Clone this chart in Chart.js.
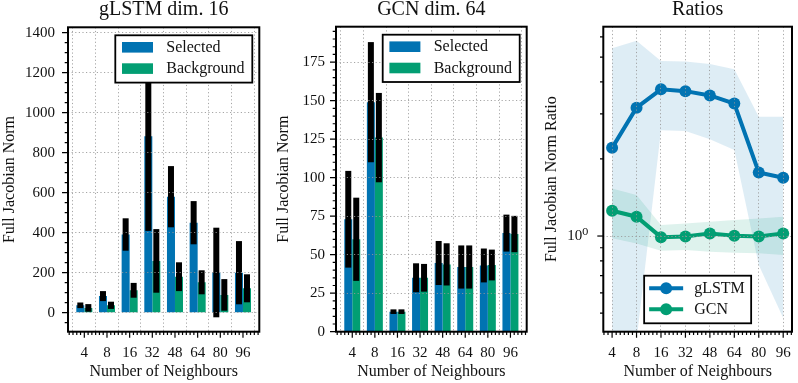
<!DOCTYPE html>
<html>
<head>
<meta charset="utf-8">
<script src="https://cdn.jsdelivr.net/npm/chart.js@4.4.0/dist/chart.umd.min.js"></script>
<style>
  html, body { margin: 0; padding: 0; background: #fff; }
  #wrap { position: relative; width: 798px; height: 383px; }
  canvas { position: absolute; top: 0; }
</style>
</head>
<body>
<div id="wrap">
  <canvas id="lstm-chart" width="266" height="383" style="left:0px"></canvas>
  <canvas id="gcn-chart" width="266" height="383" style="left:266px"></canvas>
  <canvas id="ratio-chart" width="266" height="383" style="left:532px"></canvas>
</div>
<script>
const neighbours = ['4', '8', '16', '32', '48', '64', '80', '96'];

// gLSTM dim. 16
const lstmSelected = [37, 83, 391, 882, 580, 450, 201, 200];
const lstmSelectedErr = [14, 25, 81, 473, 153, 108, 224, 158];
const lstmBackground = [24, 37, 112, 259, 180, 152, 89, 122];
const lstmBackgroundErr = [19, 18, 37, 159, 72, 60, 79, 70];
const lstmTicks = [0, 200, 400, 600, 800, 1000, 1200, 1400];

// GCN dim. 64
const gcnSelected = [73, 149, 13, 35, 44.6, 42, 43, 64];
const gcnSelectedErr = [31.4, 39, 1.5, 9.4, 14.3, 14, 11, 12];
const gcnBackground = [60, 126, 13, 35, 43.7, 42, 43.3, 63.4];
const gcnBackgroundErr = [27, 29, 1.5, 9, 13.7, 14, 10, 11.8];
const gcnTicks = [0, 25, 50, 75, 100, 125, 150, 175];

// Ratios
const ratioLstm = [2.21, 3.17, 3.74, 3.68, 3.54, 3.29, 1.77, 1.69];
const ratioLstmHigh = [5.41, 5.79, 4.83, 4.80, 4.70, 4.48, 2.92, 2.92];
const ratioLstmLow = [0.1, 0.39, 2.59, 2.57, 2.39, 2.17, 0.77, 0.478];
const ratioGcn = [1.256, 1.19, 0.99, 0.995, 1.024, 1.003, 0.995, 1.024];
const ratioGcnHigh = [1.535, 1.446, 1.104, 1.12, 1.137, 1.155, 1.172, 1.19];
const ratioGcnLow = [0.98, 0.934, 0.876, 0.882, 0.868, 0.861, 0.856, 0.843];
const ratioTicks = [1];
const ratioMinorTicks = [0.5, 0.6, 0.7, 0.8, 0.9, 2, 3, 4, 5, 6];

const serif = "'Liberation Serif', 'DejaVu Serif', serif";
const ink = '#111';
const blue = '#0173B2';
const green = '#029E73';
const gridColor = 'rgba(150,150,150,0.85)';
const tickFont = { family: serif, size: 15 };
const labelFont = { family: serif, size: 16 };
const titleFont = { family: serif, size: 20, weight: 'normal', lineHeight: 1 };

Chart.defaults.animation = false;
Chart.defaults.color = ink;
Chart.defaults.font.family = serif;

function points(values) {
    return values.map((v, i) => ({ x: i, y: v }));
}

function minorSteps(from, to, step, skip) {
    const out = [];
    for (let v = from; v <= to + 1e-9; v += step) {
        const r = Math.round(v * 1000) / 1000;
        if (!skip(r)) out.push(r);
    }
    return out;
}

function xAxis(min, max) {
    return {
        type: 'linear',
        min: min,
        max: max,
        offset: false,
        afterBuildTicks: s => { s.ticks = neighbours.map((n, i) => ({ value: i })); },
        afterFit: s => { s.height = 51.3; },
        ticks: { callback: v => neighbours[v], font: tickFont, color: ink, padding: 7, maxRotation: 0, autoSkip: false },
        grid: { color: gridColor, lineWidth: 1, tickLength: 5, tickColor: 'transparent', z: 1 },
        border: { display: false, dash: [1.2, 2.4] },
        title: { display: true, text: 'Number of Neighbours', font: labelFont, color: ink, padding: { top: 0, bottom: 1.7 } }
    };
}

function yAxis(type, min, max, tickValues, width, labelPad, titlePad, text, fmt, gridFn) {
    return {
        type: type,
        min: min,
        max: max,
        afterBuildTicks: s => { s.ticks = tickValues.map(v => ({ value: v })); },
        afterFit: s => { s.width = width; },
        ticks: { callback: fmt, font: tickFont, color: ink, padding: labelPad },
        grid: { color: gridFn || gridColor, lineWidth: 1, tickLength: 5, tickColor: 'transparent', z: 1 },
        border: { display: false, dash: [1.2, 2.4] },
        title: { display: true, text: text, font: labelFont, color: ink, padding: { top: titlePad, bottom: 0 } }
    };
}

// black error bars drawn over each bar, centred on the bar
function makeErrorBars(errors) {
    return {
        id: 'errorBars',
        afterDatasetsDraw(chart) {
            const ctx = chart.ctx;
            const y = chart.scales.y;
            const a = chart.chartArea;
            ctx.save();
            ctx.beginPath();
            ctx.rect(a.left, a.top, a.right - a.left, a.bottom - a.top);
            ctx.clip();
            ctx.fillStyle = '#000';
            errors.forEach((err, di) => {
                const vals = chart.data.datasets[di].data;
                chart.getDatasetMeta(di).data.forEach((bar, j) => {
                    const top = y.getPixelForValue(vals[j].y + err[j]);
                    const bottom = y.getPixelForValue(vals[j].y - err[j]);
                    ctx.fillRect(bar.x - 3, top, 6, bottom - top);
                });
            });
            ctx.restore();
        }
    };
}

function drawTickMarks(chart, scale, values, len) {
    const ctx = chart.ctx;
    const a = chart.chartArea;
    ctx.beginPath();
    values.forEach(v => {
        const p = scale.getPixelForValue(v);
        if (scale.isHorizontal()) {
            if (p < a.left - 0.5 || p > a.right + 0.5) return;
            ctx.moveTo(p, a.bottom);
            ctx.lineTo(p, a.bottom + len);
        } else {
            if (p < a.top - 0.5 || p > a.bottom + 0.5) return;
            ctx.moveTo(a.left, p);
            ctx.lineTo(a.left - len, p);
        }
    });
    ctx.stroke();
}

function drawLegendBox(ctx, x, y, w, h) {
    ctx.fillStyle = '#fff';
    ctx.fillRect(x, y, w, h);
    ctx.lineWidth = 1.8;
    ctx.strokeStyle = '#000';
    ctx.strokeRect(x, y, w, h);
}

function barLegend(chart, items) {
    const ctx = chart.ctx;
    const a = chart.chartArea;
    const w = 137, h = 47.3;
    const x = a.right - 7 - w, y = a.top + 8;
    drawLegendBox(ctx, x, y, w, h);
    ctx.font = '16px ' + serif;
    ctx.textBaseline = 'middle';
    ctx.textAlign = 'left';
    items.forEach((it, i) => {
        const cy = y + 12 + i * 21.3;
        ctx.fillStyle = it.color;
        ctx.fillRect(x + 6.7, cy - 5.3, 31, 10.6);
        ctx.fillStyle = ink;
        ctx.fillText(it.label, x + 51, cy + 0.5);
    });
}

function lineLegend(chart, items) {
    const ctx = chart.ctx;
    const a = chart.chartArea;
    const w = 107, h = 47.6;
    const x = (a.left + a.right) / 2 - w / 2, y = a.bottom - 8.4 - h;
    drawLegendBox(ctx, x, y, w, h);
    ctx.font = '16px ' + serif;
    ctx.textBaseline = 'middle';
    ctx.textAlign = 'left';
    items.forEach((it, i) => {
        const cy = y + 12.6 + i * 21;
        ctx.strokeStyle = it.color;
        ctx.lineWidth = 4;
        ctx.beginPath();
        ctx.moveTo(x + 5, cy);
        ctx.lineTo(x + 39, cy);
        ctx.stroke();
        ctx.fillStyle = it.color;
        ctx.beginPath();
        ctx.arc(x + 22, cy, 6, 0, Math.PI * 2);
        ctx.fill();
        ctx.fillStyle = ink;
        ctx.fillText(it.label, x + 50, cy + 0.5);
    });
}

// frame, major/minor tick marks and the in-axes legend
function makeDecor(xMinor, yMajor, yMinor, legend) {
    return {
        id: 'decor',
        afterDraw(chart) {
            const ctx = chart.ctx;
            const a = chart.chartArea;
            ctx.save();
            ctx.strokeStyle = '#000';
            ctx.lineWidth = 1.2;
            drawTickMarks(chart, chart.scales.x, chart.scales.x.ticks.map(t => t.value), 6);
            drawTickMarks(chart, chart.scales.x, xMinor, 3.3);
            drawTickMarks(chart, chart.scales.y, yMajor, 6);
            drawTickMarks(chart, chart.scales.y, yMinor, 3.3);
            ctx.lineWidth = 2;
            ctx.strokeRect(a.left, a.top, a.right - a.left, a.bottom - a.top);
            legend(chart);
            ctx.restore();
        }
    };
}

function barChart(id, title, sel, selErr, bg, bgErr, yMin, yMax, yTicks, yMinor, yWidth, labelPad, titlePad, padBottom, padRight) {
    return new Chart(document.getElementById(id), {
        type: 'bar',
        data: {
            datasets: [
                { label: 'Selected', data: points(sel), backgroundColor: blue, borderWidth: 0 },
                { label: 'Background', data: points(bg), backgroundColor: green, borderWidth: 0 }
            ]
        },
        options: {
            responsive: false,
            devicePixelRatio: 1,
            categoryPercentage: 0.707,
            barPercentage: 1,
            layout: { padding: { left: 0, right: padRight, top: 0, bottom: 0 } },
            scales: {
                x: xAxis(-0.72, 7.72),
                y: yAxis('linear', yMin, yMax, yTicks, yWidth, labelPad, titlePad, 'Full Jacobian Norm', v => String(v))
            },
            plugins: {
                legend: { display: false },
                tooltip: { enabled: false },
                title: { display: true, text: title, font: titleFont, color: ink, fullSize: false, padding: { top: 0, bottom: padBottom } }
            }
        },
        plugins: [
            makeErrorBars([selErr, bgErr]),
            makeDecor(minorSteps(-4 / 6, 7.7, 1 / 6, v => Number.isInteger(v)), yTicks, yMinor,
                chart => barLegend(chart, [{ label: 'Selected', color: blue }, { label: 'Background', color: green }]))
        ]
    });
}

barChart('lstm-chart', 'gLSTM dim. 16', lstmSelected, lstmSelectedErr, lstmBackground, lstmBackgroundErr,
    -95, 1427, lstmTicks, minorSteps(-50, 1400, 50, v => v % 200 === 0), 68, 8, 0, 7.3, 6.7);

barChart('gcn-chart', 'GCN dim. 64', gcnSelected, gcnSelectedErr, gcnBackground, gcnBackgroundErr,
    0, 198, gcnTicks, minorSteps(5, 195, 5, v => v % 25 === 0), 70, 6, 8.4, 6.7, 5.3);

new Chart(document.getElementById('ratio-chart'), {
    type: 'line',
    data: {
        datasets: [
            { label: 'gLSTM', data: points(ratioLstm), borderColor: blue, backgroundColor: blue, borderWidth: 4, pointRadius: 6, pointBorderWidth: 0, fill: false, order: 0 },
            { label: 'GCN', data: points(ratioGcn), borderColor: green, backgroundColor: green, borderWidth: 4, pointRadius: 6, pointBorderWidth: 0, fill: false, order: 1 },
            { label: 'gLSTM high', data: points(ratioLstmHigh), borderColor: 'transparent', pointRadius: 0, fill: false, order: 3 },
            { label: 'gLSTM low', data: points(ratioLstmLow), borderColor: 'transparent', backgroundColor: 'rgba(1,115,178,0.13)', pointRadius: 0, fill: '-1', order: 3 },
            { label: 'GCN high', data: points(ratioGcnHigh), borderColor: 'transparent', pointRadius: 0, fill: false, order: 2 },
            { label: 'GCN low', data: points(ratioGcnLow), borderColor: 'transparent', backgroundColor: 'rgba(2,158,115,0.13)', pointRadius: 0, fill: '-1', order: 2 }
        ]
    },
    options: {
        responsive: false,
        devicePixelRatio: 1,
        layout: { padding: { left: 0, right: 3, top: 0, bottom: 0 } },
        scales: {
            x: xAxis(-0.36, 7.36),
            y: yAxis('logarithmic', 0.423, 6.57, ratioTicks, 71.3, 10, 10.4, 'Full Jacobian Norm Ratio', () => '10\u2070',
                c => (c.tick && c.tick.value === 1 ? gridColor : 'transparent'))
        },
        plugins: {
            legend: { display: false },
            tooltip: { enabled: false },
            title: { display: true, text: 'Ratios', font: titleFont, color: ink, fullSize: false, padding: { top: 0, bottom: 6.7 } }
        }
    },
    plugins: [
        makeDecor(minorSteps(-2 / 6, 7.34, 1 / 6, v => Number.isInteger(v)), ratioTicks, ratioMinorTicks,
            chart => lineLegend(chart, [{ label: 'gLSTM', color: blue }, { label: 'GCN', color: green }]))
    ]
});
</script>
</body>
</html>
